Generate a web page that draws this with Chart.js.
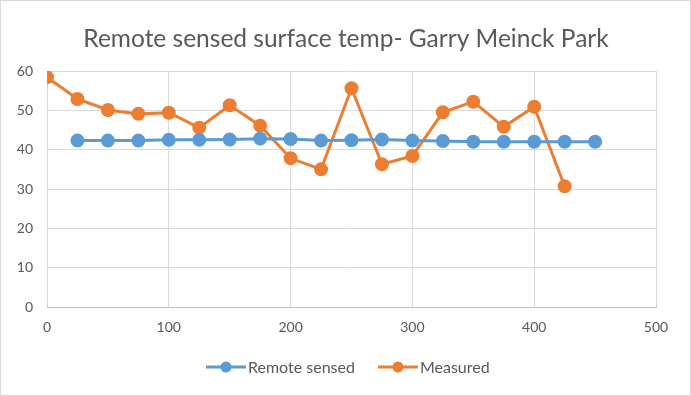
<!DOCTYPE html>
<html>
<head>
<meta charset="utf-8">
<script src="https://cdn.jsdelivr.net/npm/chart.js@4/dist/chart.umd.min.js"></script>
<style>
  html, body { margin: 0; padding: 0; background: #fff; }
  #wrap { width: 691px; height: 396px; position: relative; }
</style>
</head>
<body>
<div id="wrap"><canvas id="chart"></canvas></div>
<script>
// distances (x) for each series
const remoteX = [25, 50, 75, 100, 125, 150, 175, 200, 225, 250, 275, 300, 325, 350, 375, 400, 425, 450];
const remoteTemp = [42.3, 42.3, 42.3, 42.5, 42.5, 42.6, 42.8, 42.7, 42.3, 42.4, 42.6, 42.3, 42.2, 42.0, 42.0, 42.0, 42.0, 42.0];
const measuredX = [0, 25, 50, 75, 100, 125, 150, 175, 200, 225, 250, 275, 300, 325, 350, 375, 400, 425];
const measuredTemp = [58.4, 52.9, 50.1, 49.1, 49.4, 45.6, 51.3, 46.1, 37.8, 35.0, 55.6, 36.3, 38.4, 49.5, 52.2, 45.8, 50.9, 30.7];
const seriesNames = ['Remote sensed', 'Measured'];
const chartTitle = 'Remote sensed surface temp- Garry Meinck Park';

const colors = { blue: '#5B9BD5', orange: '#ED7D31', grid: '#d9d9d9', text: '#595959' };
const fontFamily = 'Lato, "Open Sans", sans-serif';

const toPoints = (xs, ys) => xs.map((x, i) => ({ x: x, y: ys[i] }));

// title, legend (line with marker + label) and outer frame, drawn by hand
const decorations = {
    id: 'decorations',
    afterDraw: (chart) => {
        const ctx = chart.ctx;
        ctx.save();

        // title, centred on the whole picture rather than the layout box
        ctx.font = '24.5px ' + fontFamily;
        ctx.fillStyle = colors.text;
        ctx.textAlign = 'center';
        ctx.textBaseline = 'alphabetic';
        ctx.fillText(chartTitle, 346, 47);

        // legend
        const y = 367;
        ctx.font = '16px ' + fontFamily;
        ctx.textAlign = 'left';
        ctx.textBaseline = 'middle';
        const items = chart.data.datasets.map(ds => 42 + ctx.measureText(ds.label).width);
        const total = items.reduce((a, b) => a + b, 0) + 23 * (items.length - 1);
        let x = Math.round(348 - total / 2);
        chart.data.datasets.forEach((ds, i) => {
            ctx.strokeStyle = ds.borderColor;
            ctx.lineWidth = 3;
            ctx.beginPath();
            ctx.moveTo(x, y);
            ctx.lineTo(x + 40, y);
            ctx.stroke();
            ctx.fillStyle = ds.backgroundColor;
            ctx.beginPath();
            ctx.arc(x + 20, y, 5.5, 0, Math.PI * 2);
            ctx.fill();
            ctx.fillStyle = colors.text;
            ctx.fillText(ds.label, x + 42, y + 1);
            x += items[i] + 23;
        });

        // outer frame
        ctx.strokeStyle = colors.grid;
        ctx.lineWidth = 1;
        ctx.strokeRect(0.5, 0.5, chart.width - 1, chart.height - 1);
        ctx.restore();
    }
};

new Chart(document.getElementById('chart'), {
    type: 'scatter',
    data: {
        datasets: [{
            label: seriesNames[0],
            data: toPoints(remoteX, remoteTemp),
            showLine: true,
            borderColor: colors.blue,
            backgroundColor: colors.blue,
            borderWidth: 3,
            pointRadius: 5.5,
            pointHoverRadius: 5.5
        }, {
            label: seriesNames[1],
            data: toPoints(measuredX, measuredTemp),
            showLine: true,
            borderColor: colors.orange,
            backgroundColor: colors.orange,
            borderWidth: 3,
            pointRadius: 5.5,
            pointHoverRadius: 5.5
        }]
    },
    options: {
        responsive: true,
        maintainAspectRatio: false,
        animation: false,
        layout: { padding: { left: 0, right: 35, top: 71, bottom: 54 } },
        scales: {
            x: {
                type: 'linear',
                min: 0,
                max: 500,
                ticks: { stepSize: 100, color: colors.text, font: { family: fontFamily, size: 14 }, padding: 12 },
                grid: { color: colors.grid, drawTicks: false },
                border: { color: '#bfbfbf' },
                afterFit: (axis) => { axis.height = 35; }
            },
            y: {
                min: 0,
                max: 60,
                ticks: { stepSize: 10, color: colors.text, font: { family: fontFamily, size: 14 }, padding: 14 },
                grid: { color: colors.grid, drawTicks: false },
                border: { display: false },
                afterFit: (axis) => { axis.width = 47; }
            }
        },
        plugins: {
            legend: { display: false },
            tooltip: { enabled: false },
            title: { display: false }
        }
    },
    plugins: [decorations]
});
</script>
</body>
</html>
